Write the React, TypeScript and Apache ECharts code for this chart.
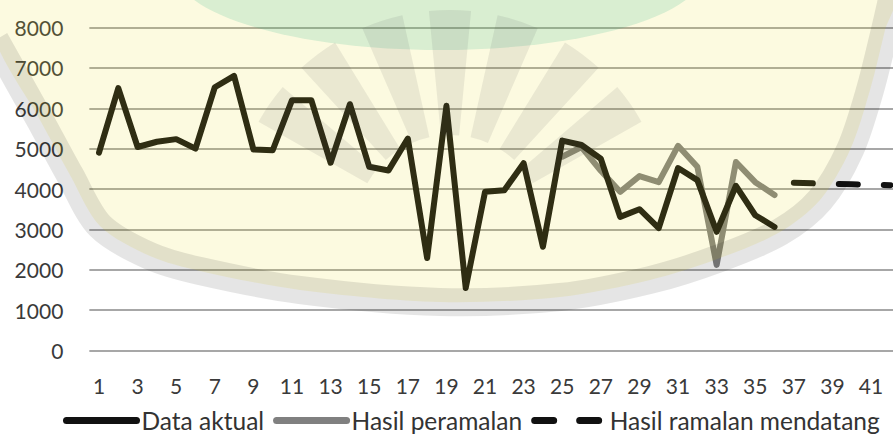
import React, { useEffect, useRef } from "react";
import * as echarts from "echarts";

const categories = [
  "1","2","3","4","5","6","7","8","9","10","11","12","13","14","15","16","17","18","19","20","21",
  "22","23","24","25","26","27","28","29","30","31","32","33","34","35","36","37","38","39","40","41","42",
];
const yTicks = [0, 1000, 2000, 3000, 4000, 5000, 6000, 7000, 8000];
const seriesNames = ["Data aktual", "Hasil peramalan", "Hasil ramalan mendatang"];
// periods 1..36
const dataAktual = [
  4900, 6500, 5040, 5170, 5235, 5000, 6520, 6800, 4980, 4960, 6200, 6200, 4650, 6100, 4550, 4460,
  5250, 2290, 6060, 1550, 3930, 3970, 4640, 2570, 5200, 5090, 4750, 3310, 3500, 3030, 4520, 4220,
  2940, 4080, 3350, 3060,
];
// periods 25..36
const hasilPeramalan = [4800, 5040, 4450, 3930, 4320, 4170, 5070, 4550, 2120, 4670, 4170, 3850];
const peramalanStart = 25;
// periods 37..42
const ramalanMendatang = [4155, 4140, 4128, 4118, 4105, 4095];
const mendatangStart = 37;

const FONT = "Lato";

function pad(values: number[], start: number, total: number): (number | null)[] {
  const out: (number | null)[] = [];
  for (let i = 1; i <= total; i++) {
    const k = i - start;
    out.push(k >= 0 && k < values.length ? values[k] : null);
  }
  return out;
}

export default function App() {
  const ref = useRef<HTMLDivElement>(null);
  useEffect(() => {
    if (!ref.current) return;
    const chart = echarts.init(ref.current, undefined, { renderer: "svg" });
    const n = categories.length;
    const ringPts = [
      [-5, 40], [40, 120], [70, 175], [100, 226], [150, 256], [200, 271], [300, 290], [440, 302],
      [560, 297], [650, 280], [720, 258], [780, 232], [820, 200], [850, 150], [870, 90], [885, 30], [893, -5],
    ];
    const yellowPts = [[-5, -5], [893, -5], ...ringPts.slice().reverse().slice(1)];
    const rayAngles = [-145, -127, -108, -90, -72, -53, -35];
    const rays = rayAngles.map((a) => ({
      type: "sector",
      silent: true,
      z: 101,
      shape: {
        cx: 450,
        cy: 230,
        r0: 95,
        r: 220,
        startAngle: ((a - 5.5) * Math.PI) / 180,
        endAngle: ((a + 5.5) * Math.PI) / 180,
      },
      style: { fill: "rgba(60,60,70,0.09)" },
    }));
    chart.setOption({
      animation: false,
      backgroundColor: "#ffffff",
      grid: {
        left: 89.35,
        right: 5,
        top: 27.5,
        bottom: 83.5,
        containLabel: false,
        outerBoundsMode: "none",
      },
      legend: {
        data: seriesNames,
        left: 63,
        top: 408,
        padding: 0,
        itemWidth: 70,
        itemHeight: 14,
        itemGap: 9,
        lineStyle: { width: 7 },
        itemStyle: { opacity: 0 },
        textStyle: { fontFamily: FONT, fontSize: 24.5, color: "#333333", lineHeight: 24 },
      },
      xAxis: {
        type: "category",
        data: categories,
        boundaryGap: true,
        axisLine: { show: false },
        axisTick: { show: false },
        axisLabel: {
          interval: 1,
          margin: 24,
          fontFamily: FONT,
          fontSize: 21,
          color: "#3a3a3a",
        },
      },
      yAxis: {
        type: "value",
        min: yTicks[0],
        max: yTicks[yTicks.length - 1],
        interval: yTicks[1] - yTicks[0],
        axisLine: { show: false },
        axisTick: { show: false },
        splitLine: { lineStyle: { color: "#8a8a8a", width: 1.5 } },
        axisLabel: {
          margin: 26,
          fontFamily: FONT,
          fontSize: 21,
          color: "#3a3a3a",
          formatter: (v: number) => String(v),
        },
      },
      series: [
        {
          name: seriesNames[0],
          type: "line",
          data: pad(dataAktual, 1, n),
          symbol: "none",
          z: 4,
          lineStyle: { color: "#111111", width: 6, cap: "round", join: "round" },
          itemStyle: { color: "#111111" },
        },
        {
          name: seriesNames[1],
          type: "line",
          data: pad(hasilPeramalan, peramalanStart, n),
          symbol: "none",
          z: 3,
          lineStyle: { color: "#808080", width: 6, cap: "round", join: "round" },
          itemStyle: { color: "#808080" },
        },
        {
          name: seriesNames[2],
          type: "line",
          data: pad(ramalanMendatang, mendatangStart, n),
          symbol: "none",
          z: 3,
          lineStyle: { color: "#111111", width: 6, type: [19, 26], cap: "round", join: "round" },
          itemStyle: { color: "#111111" },
        },
      ],
      graphic: [
        {
          type: "polygon",
          silent: true,
          z: 100,
          shape: { points: yellowPts, smooth: 0.3 },
          style: { fill: "rgba(233,219,36,0.14)" },
        },
        {
          type: "ellipse",
          silent: true,
          z: 100,
          shape: { cx: 440, cy: -30, rx: 265, ry: 80 },
          style: { fill: "rgba(40,180,130,0.16)" },
        },
        ...rays,
        {
          type: "polyline",
          silent: true,
          z: 101,
          shape: { points: ringPts, smooth: 0.3 },
          style: { stroke: "rgba(0,0,0,0.1)", lineWidth: 28, fill: null },
        },
      ],
    });
    return () => chart.dispose();
  }, []);
  return (
    <div
      style={{
        position: "fixed",
        left: 0,
        top: 0,
        width: 893,
        height: 434,
        overflow: "hidden",
        background: "#fff",
      }}
    >
      <div ref={ref} style={{ width: 905, height: 434 }} />
    </div>
  );
}
